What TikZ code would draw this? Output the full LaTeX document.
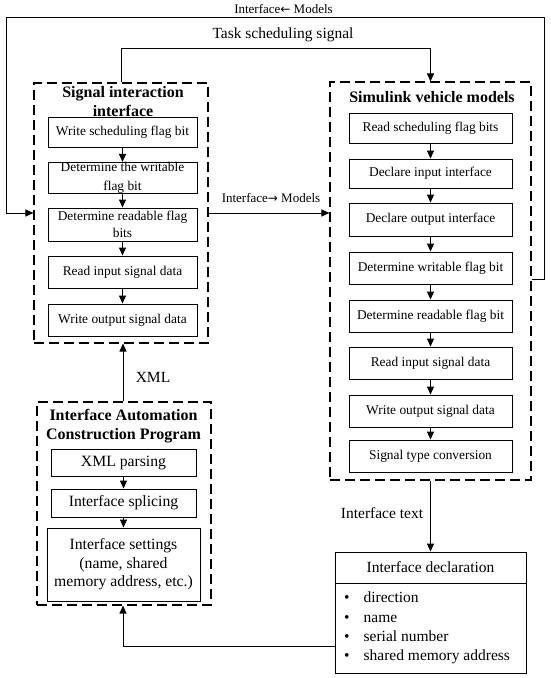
\documentclass[tikz,border=0pt]{standalone}
\usepackage{fontspec}
\setmainfont{Liberation Serif}
\newfontfamily\arrowfont{DejaVu Sans}
\usetikzlibrary{arrows.meta}
\begin{document}
\begin{tikzpicture}[x=1pt,y=-1pt,
  box/.style={draw, line width=0.9pt, inner sep=0pt, align=center, font=\fontsize{13.4}{15}\selectfont},
  bigbox/.style={box, font=\fontsize{15.7}{18.5}\selectfont},
  dbox/.style={draw, line width=1.1pt, dash pattern=on 10pt off 5pt, inner sep=0pt},
  ttl/.style={font=\fontsize{16}{19}\selectfont\bfseries, align=center, inner sep=0pt},
  lbl/.style={font=\fontsize{15.5}{18}\selectfont, inner sep=0pt},
  slbl/.style={font=\fontsize{13}{15}\selectfont, inner sep=0pt},
  arr/.style={line width=0.9pt, -{Triangle[length=8pt,width=7pt]}},
  ln/.style={line width=0.9pt},
]
\useasboundingbox (0,0) rectangle (550,678);

% dashed containers
\node[dbox, minimum width=174pt, minimum height=260pt] (Ld) at (121,213) {};
\node[dbox, minimum width=201pt, minimum height=398pt] (Rd) at (430.5,281) {};
\node[dbox, minimum width=174pt, minimum height=203pt] (Bd) at (124,503.5) {};

% titles
\node[ttl] (Lt) at (123,101.5) {Signal interaction\\interface};
\node[ttl] (Rt) at (432,97) {Simulink vehicle models};
\node[ttl] (Bt) at (123.5,426.5) {Interface Automation\\Construction Program};

% left column
\node[box, minimum width=149pt, minimum height=30pt] (L1) at (122.5,132) {Write scheduling flag bit};
\node[box, minimum width=149pt, minimum height=30pt, font=\fontsize{13.4}{19}\selectfont] (L2) at (122.5,178) {Determine the writable\\flag bit};
\node[box, minimum width=149pt, minimum height=33pt, font=\fontsize{13.4}{17}\selectfont] (L3) at (122.5,224.5) {Determine readable flag\\bits};
\node[box, minimum width=149pt, minimum height=32pt] (L4) at (122.5,272) {Read input signal data};
\node[box, minimum width=149pt, minimum height=32pt] (L5) at (122.5,320) {Write output signal data};
\foreach \a/\b in {L1/L2,L2/L3,L3/L4,L4/L5} \draw[arr] (\a.south) -- (\b.north);

% right column
\node[box, minimum width=163pt, minimum height=30pt] (R1) at (430.5,128) {Read scheduling flag bits};
\node[box, minimum width=163pt, minimum height=29pt] (R2) at (430.5,173.5) {Declare input interface};
\node[box, minimum width=163pt, minimum height=33pt] (R3) at (430.5,219.5) {Declare output interface};
\node[box, minimum width=163pt, minimum height=32pt] (R4) at (430.5,268) {Determine writable flag bit};
\node[box, minimum width=163pt, minimum height=32pt] (R5) at (430.5,316) {Determine readable flag bit};
\node[box, minimum width=163pt, minimum height=32pt] (R6) at (430.5,363) {Read input signal data};
\node[box, minimum width=163pt, minimum height=32pt] (R7) at (430.5,411) {Write output signal data};
\node[box, minimum width=163pt, minimum height=32pt] (R8) at (430.5,456) {Signal type conversion};
\foreach \a/\b in {R1/R2,R2/R3,R3/R4,R4/R5,R5/R6,R6/R7,R7/R8} \draw[arr] (\a.south) -- (\b.north);

% bottom-left column
\node[bigbox, minimum width=145pt, minimum height=27pt] (B1) at (123.5,462.5) {XML parsing};
\node[bigbox, minimum width=145pt, minimum height=28pt] (B2) at (123.5,503) {Interface splicing};
\node[bigbox, minimum width=153pt, minimum height=73pt] (B3) at (123.5,564.5) {Interface settings\\(name, shared\\memory address, etc.)};
\draw[arr] (B1.south) -- (B2.north);
\draw[arr] (B2.south) -- (B3.north);

% interface declaration
\node[draw, line width=0.9pt, minimum width=191pt, minimum height=121pt, inner sep=0pt] (D) at (430.5,612.5) {};
\draw[ln] (D.west |- 0,583) -- (D.east |- 0,583);
\node[lbl] (Dh) at (430.5,567) {Interface declaration};
\node[lbl, anchor=west, font=\fontsize{15.5}{19.3}\selectfont] (Di) at (344,628)
  {\begin{tabular}{@{}l@{\hspace{14pt}}l@{}}•&direction\\•&name\\•&serial number\\•&shared memory address\end{tabular}};

% connectors
\draw[arr] (Ld.north) -- (121,48) -| (Rd.north);
\node[lbl] (ts) at (283,35) {Task scheduling signal};

\draw[arr] (Rd.east |- 0,279) -- (544,279) -- (544,17) -- (6,17) -- (6,213) -- (Ld.west |- 0,213);
\node[slbl] (im) at (283.5,9) {Interface{\arrowfont\fontsize{12}{14}\selectfont ←} Models};

\draw[arr] (Ld.east |- 0,213) -- (Rd.west |- 0,213);
\node[slbl] (mi) at (271,198) {Interface{\arrowfont\fontsize{12}{14}\selectfont →} Models};

\draw[arr] (Bd.north -| 123,0) -- (Ld.south -| 123,0);
\node[lbl] (xml) at (153,377) {XML};

\draw[arr] (Rd.south) -- (D.north);
\node[lbl] (it) at (382,513) {Interface text};

\draw[arr] (D.west |- 0,646) -- (123,646) -- (Bd.south -| 123,0);
\end{tikzpicture}
\end{document}
